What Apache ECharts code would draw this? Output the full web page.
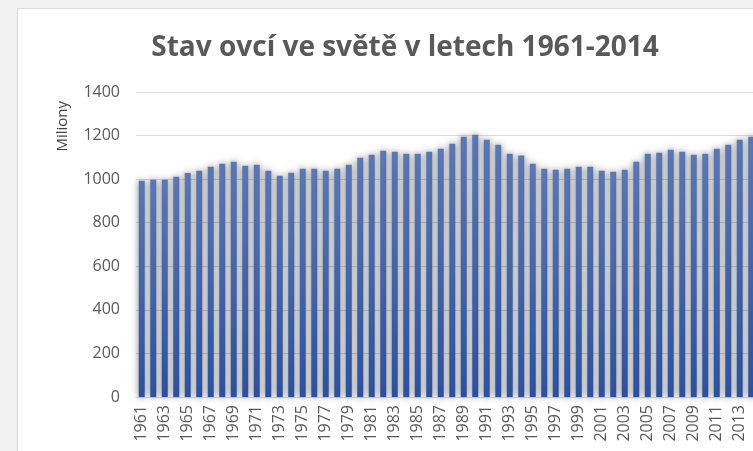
<!DOCTYPE html>
<html>
<head>
<meta charset="utf-8">
<script src="https://cdn.jsdelivr.net/npm/echarts@6/dist/echarts.min.js"></script>
<style>
  html, body { margin: 0; padding: 0; overflow: hidden; background: #f2f2f2; width: 753px; height: 451px; }
  #chart { position: absolute; left: 17px; top: 8px; width: 774px; height: 460px; background: #fff; border: 1px solid #d9d9d9; }
</style>
</head>
<body>
<div id="chart"></div>
<script>
// World sheep stock, millions of head
const years = [];
for (let y = 1961; y <= 2014; y++) years.push(String(y));

const sheepMillions = [
  993, 997, 997, 1011, 1028, 1039, 1057, 1071, 1080, 1062,
  1066, 1039, 1016, 1029, 1048, 1048, 1039, 1048, 1066, 1098,
  1112, 1130, 1126, 1117, 1117, 1126, 1140, 1163, 1195, 1204,
  1181, 1158, 1117, 1108, 1071, 1048, 1043, 1048, 1057, 1057,
  1039, 1034, 1043, 1080, 1117, 1121, 1135, 1126, 1112, 1117,
  1140, 1158, 1181, 1195
];

const yTicks = { min: 0, max: 1400, step: 200 };

const chart = echarts.init(document.getElementById('chart'));
chart.setOption({
  animation: false,
  title: {
    text: 'Stav ovcí ve světě v letech 1961-2014',
    left: 'center',
    top: 20,
    textStyle: { fontFamily: 'Open Sans', fontWeight: 'bold', fontSize: 28, color: '#595959' }
  },
  graphic: [{
    type: 'text',
    left: 37,
    top: 92,
    rotation: Math.PI / 2,
    style: { text: 'Miliony', fontFamily: 'Open Sans', fontSize: 15, fill: '#404040' }
  }],
  grid: { left: 118, right: 35, top: 83, bottom: 72, containLabel: false },
  xAxis: {
    type: 'category',
    data: years,
    axisLine: { lineStyle: { color: '#d9d9d9' } },
    axisTick: { show: false },
    axisLabel: {
      interval: 1,
      rotate: 90,
      margin: 8,
      fontFamily: 'Open Sans',
      fontSize: 16,
      color: '#595959'
    }
  },
  yAxis: {
    type: 'value',
    min: yTicks.min,
    max: yTicks.max,
    interval: yTicks.step,
    axisLine: { show: false },
    axisTick: { show: false },
    splitLine: { lineStyle: { color: '#d9d9d9', width: 1 } },
    axisLabel: {
      margin: 16,
      fontFamily: 'Open Sans',
      fontSize: 16,
      color: '#595959',
      formatter: v => String(v)
    }
  },
  series: [{
    type: 'bar',
    data: sheepMillions,
    barWidth: '52%',
    itemStyle: {
      color: new echarts.graphic.LinearGradient(0, 0, 0, 1, [
        { offset: 0, color: '#5a77b6' },
        { offset: 1, color: '#2a51a1' }
      ]),
      shadowColor: 'rgba(0,0,0,0.5)',
      shadowBlur: 7
    }
  }]
});
</script>
</body>
</html>
